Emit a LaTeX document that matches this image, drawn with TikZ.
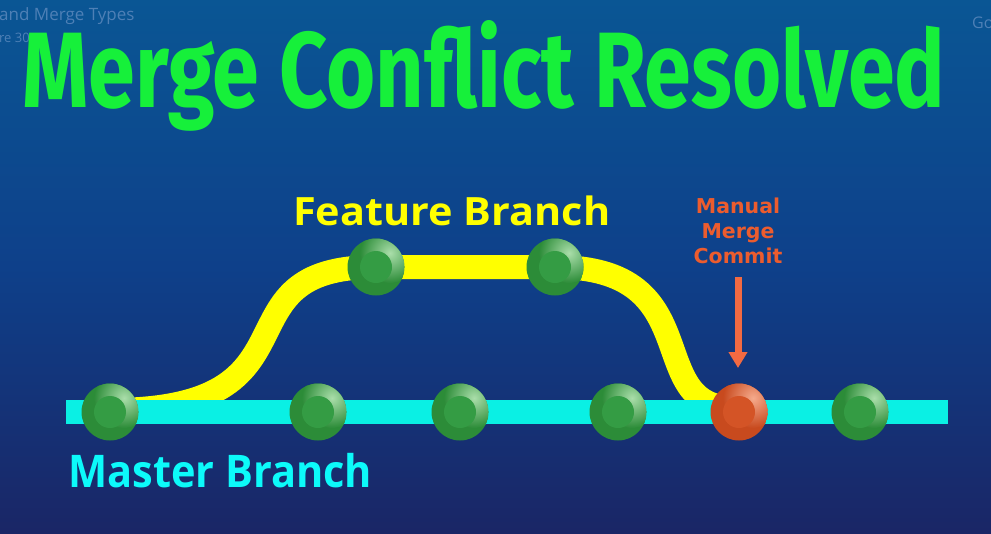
\documentclass[tikz,border=0pt]{standalone}
\usepackage{fontspec}
\usepackage{graphicx}
\setmainfont{Open Sans}
\newfontfamily\titlefont{Fira Sans}
\newfontfamily\labelfont{DejaVu Sans}
\usetikzlibrary{arrows.meta}
\definecolor{bgtop}{RGB}{10,86,148}
\definecolor{bgmid}{RGB}{14,64,138}
\definecolor{bgbot}{RGB}{26,38,102}
\definecolor{titlegreen}{RGB}{22,240,58}
\definecolor{masterline}{RGB}{10,240,228}
\definecolor{mastertext}{RGB}{12,250,250}
\definecolor{featyellow}{RGB}{255,255,0}
\definecolor{orangetext}{RGB}{236,92,46}
\definecolor{orangearrow}{RGB}{242,106,66}
\definecolor{faint}{RGB}{78,128,182}
\definecolor{gbase}{RGB}{44,140,56}
\definecolor{ghl}{RGB}{170,222,170}
\definecolor{ginner}{RGB}{52,156,68}
\definecolor{obase}{RGB}{200,74,30}
\definecolor{ohl}{RGB}{245,170,140}
\definecolor{oinner}{RGB}{212,84,38}
\tikzset{
  commit/.style n args={3}{circle, minimum size=57pt, inner sep=0pt,
    path picture={
      \fill[#1] (path picture bounding box.center) circle (29pt);
      \shade[inner color=#2, outer color=#1]
        ([xshift=14pt,yshift=14pt]path picture bounding box.center) circle (30pt);
      \fill[#3] (path picture bounding box.center) circle (16pt);
    }},
  gcommit/.style={commit={gbase}{ghl}{ginner}},
  ocommit/.style={commit={obase}{ohl}{oinner}},
  faintlabel/.style={text=faint, inner sep=0pt, anchor=base west},
}
\begin{document}
\begin{tikzpicture}[x=1pt,y=-1pt]
  \useasboundingbox (0,0) rectangle (991,533);
  \shade[top color=bgtop, bottom color=bgbot, middle color=bgmid] (0,0) rectangle (991,533);
  % faint cut-off texts
  \node[faintlabel, font=\fontsize{17}{20}\selectfont] (t1) at (-1,20) {and Merge Types};
  \node[faintlabel, font=\fontsize{13}{15}\selectfont] (t2) at (-1,42) {re 30};
  \node[faintlabel, font=\fontsize{16}{19}\selectfont] (t3) at (972,28) {Go};
  % title
  \node[inner sep=0pt, anchor=base west, text=titlegreen] (title) at (22,107)
    {\resizebox{923pt}{87pt}{\titlefont\bfseries Merge Conflict Resolved}};
  % commits coordinates
  \coordinate (m1) at (110,410);
  \coordinate (f1) at (376,267);
  \coordinate (f2) at (555,267);
  \coordinate (mc) at (735,408);
  \coordinate (ls) at (66,412);
  \coordinate (le) at (948,412);
  % feature branch path
  \draw[featyellow, line width=24pt]
    (m1) .. controls (330,410) and (210,267) .. (f1)
    -- (f2) .. controls (712,267) and (640,408) .. (mc);
  % master branch line
  \draw[masterline, line width=24pt] (ls) -- (le);
  % commits
  \node[gcommit] (c1) at (110,412) {};
  \node[gcommit] (c2) at (318,412) {};
  \node[gcommit] (c3) at (460,412) {};
  \node[gcommit] (c4) at (618,412) {};
  \node[ocommit] (c5) at (739,412) {};
  \node[gcommit] (c6) at (860,412) {};
  \node[gcommit] (fc1) at (f1) {};
  \node[gcommit] (fc2) at (f2) {};
  % labels
  \node[inner sep=0pt, anchor=base west, text=featyellow] (flabel) at (293,225)
    {\resizebox{317pt}{\height}{\fontsize{39}{44}\selectfont\bfseries Feature Branch}};
  \node[inner sep=0pt, anchor=base west, text=mastertext] (mlabel) at (68,487)
    {\resizebox{304pt}{\height}{\fontsize{45}{50}\selectfont\bfseries Master Branch}};
  \node[inner sep=0pt, anchor=base, text=orangetext, align=center,
        font=\labelfont\bfseries\fontsize{20.5}{25}\selectfont] (mlab) at (738,263)
    {Manual\\Merge\\Commit};
  \coordinate (arrtop) at (738,277);
  \coordinate (arrtip) at (738,368);
  \draw[orangearrow, line width=7pt, -{Triangle[length=16pt,width=18pt]}]
    (arrtop) -- (arrtip);
\end{tikzpicture}
\end{document}
